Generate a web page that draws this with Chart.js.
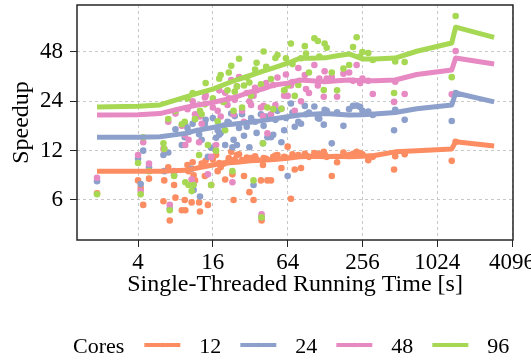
<!DOCTYPE html>
<html>
<head>
<meta charset="utf-8">
<script src="https://cdn.jsdelivr.net/npm/chart.js@4.4.0/dist/chart.umd.min.js"></script>
<style>
  html, body { margin: 0; padding: 0; background: #fff; overflow: hidden; }
</style>
</head>
<body>
<canvas id="speedupChart" width="531" height="360"></canvas>
<script>
const coreCounts = ['12', '24', '48', '96'];
const coreColors = ['#fc8d62', '#8da0cb', '#e78ac3', '#a6d854'];
const xTickValues = [4, 16, 64, 256, 1024, 4096];
const yTickValues = [6, 12, 24, 48];

// One entry per benchmark: single-threaded time [s] and speedup per core count
const runTimes = [
  1.87, 4.0, 4.2, 4.4, 4.9, 6.4, 6.5, 7.0, 7.2, 7.8,
  8.0, 9.0, 9.5, 9.6, 10.0, 10.2, 10.8, 11.0, 11.2, 11.5,
  12.4, 12.6, 13.0, 13.8, 14.0, 14.6, 15.5, 16.0, 17.0, 17.5,
  18.0, 18.5, 19.5, 20.1, 21.0, 21.5, 22.5, 23.0, 23.5, 24.0,
  25.0, 26.0, 27.5, 28.5, 30.0, 31.5, 32.5, 34.0, 35.0, 36.0,
  39.0, 39.5, 40.5, 41.0, 43.0, 44.0, 47.0, 49.0, 51.0, 53.0,
  57.0, 60.0, 62.0, 64.0, 68.0, 70.0, 73.0, 78.0, 82.0, 88.0,
  90.0, 95.0, 105, 112, 115, 125, 127, 132, 145, 160,
  180, 200, 215, 230, 245, 256, 285, 310, 460, 470,
  560, 1340, 1440
];
const speedup12 = [
  6.6, 7.9, 7.1, 5.6, 8.1, 5.9, 7.9, 9.5, 4.5, 7.4,
  6.2, 5.2, 6.0, 5.2, 9.8, 9.0, 5.8, 10.2, 8.5, 7.9,
  5.8, 5.1, 10.0, 8.4, 10.4, 5.6, 7.4, 10.6, 11.3, 9.0,
  10.1, 9.5, 10.0, 8.0, 10.2, 10.8, 11.8, 8.6, 6.0, 10.6,
  11.3, 11.4, 10.5, 8.4, 10.9, 6.7, 10.8, 6.0, 11.1, 10.6,
  7.9, 4.5, 9.8, 10.8, 10.7, 7.9, 7.9, 11.0, 11.2, 11.3,
  9.4, 11.0, 10.9, 12.7, 6.1, 11.4, 9.2, 11.3, 9.4, 11.5,
  11.2, 11.0, 11.6, 11.2, 11.5, 11.8, 11.4, 11.0, 8.4, 10.2,
  11.7, 11.3, 11.5, 11.8, 11.6, 11.4, 10.5, 11.0, 9.2, 11.1,
  11.4, 10.4, 13.6
];
const speedup24 = [
  7.8, 10.7, 7.5, 12.0, 9.5, 11.3, 9.0, 11.7, 5.3, 8.5,
  16.2, 13.0, 14.5, 17.2, 16.5, 15.6, 9.3, 17.5, 6.9, 18.7,
  15.1, 6.3, 14.0, 17.5, 18.5, 11.0, 12.5, 19.0, 14.4, 16.0,
  15.0, 15.4, 17.0, 13.0, 18.0, 17.8, 20.2, 12.6, 14.0, 19.5,
  13.0, 16.5, 20.0, 14.8, 16.8, 12.6, 19.0, 7.4, 18.0, 15.4,
  20.0, 4.7, 13.3, 17.0, 19.4, 14.5, 14.5, 15.0, 18.5, 21.0,
  13.5, 16.0, 19.0, 8.4, 23.3, 20.5, 16.8, 18.0, 17.5, 22.5,
  20.0, 20.5, 22.3, 19.0, 18.8, 17.3, 21.3, 21.0, 13.3, 20.6,
  17.0, 21.5, 22.5, 22.6, 22.2, 21.0, 20.8, 19.8, 16.0, 21.3,
  18.5, 18.2, 27.0
];
const speedup48 = [
  8.2, 11.3, 6.8, 13.5, 10.0, 12.3, 12.3, 18.0, 5.6, 9.0,
  20.2, 17.0, 15.0, 13.0, 21.5, 14.0, 8.0, 24.0, 7.5, 20.0,
  13.5, 19.4, 17.5, 25.3, 26.0, 8.6, 11.0, 22.0, 13.0, 21.0,
  28.0, 19.4, 23.8, 27.1, 22.8, 25.0, 32.4, 7.7, 20.0, 24.5,
  29.6, 33.8, 21.0, 18.0, 27.0, 24.0, 22.8, 26.0, 29.0, 28.0,
  22.0, 4.9, 19.5, 22.5, 31.0, 15.3, 20.0, 30.2, 22.8, 33.5,
  21.6, 26.0, 35.0, 25.9, 30.0, 31.5, 21.0, 38.3, 24.0, 34.7,
  28.5, 27.0, 40.0, 30.0, 33.0, 25.6, 36.6, 33.0, 33.8, 25.6,
  35.4, 36.0, 32.0, 40.0, 31.0, 33.0, 32.0, 26.6, 23.8, 31.6,
  26.6, 26.5, 48.7
];
const speedup96 = [
  6.5, 10.1, 6.5, 14.5, 9.0, 13.3, 12.3, 18.7, 5.2, 8.4,
  21.0, 17.4, 18.0, 7.7, 25.0, 7.4, 6.8, 27.0, 7.4, 18.7,
  11.3, 21.0, 20.0, 23.0, 31.0, 13.0, 7.4, 25.0, 12.0, 18.1,
  33.0, 34.7, 23.8, 16.0, 28.0, 36.0, 39.5, 9.0, 21.0, 27.5,
  29.6, 43.7, 22.0, 30.0, 33.5, 31.3, 26.0, 7.9, 37.5, 41.3,
  30.5, 4.7, 13.3, 48.3, 39.0, 22.0, 32.8, 21.5, 44.1, 46.0,
  21.6, 28.0, 44.0, 30.0, 54.0, 40.5, 25.9, 30.2, 44.0, 52.1,
  47.0, 36.0, 58.2, 56.0, 45.0, 28.1, 54.0, 50.9, 36.0, 28.0,
  38.0, 40.0, 51.5, 59.0, 45.0, 48.0, 47.3, 42.9, 27.0, 42.0,
  41.7, 33.7, 79.6
];

// Running trend lines
const trendTimes = [1.87, 4, 6, 9.6, 12, 16, 20, 25, 32, 40, 50, 64, 80, 100, 128, 160, 200, 256, 320, 470, 700, 1340, 1440, 2940];
const trend12 = [9.0, 9.0, 9.0, 9.1, 9.4, 9.8, 10.1, 10.2, 10.4, 10.5, 10.6, 10.8, 11.0, 11.1, 11.0, 11.1, 11.0, 11.1, 11.2, 11.8, 12.0, 12.3, 13.6, 12.8];
const trend24 = [14.5, 14.5, 14.6, 15.3, 16.0, 16.6, 17.2, 17.5, 17.9, 18.3, 18.8, 19.3, 19.8, 20.0, 20.2, 20.0, 19.8, 19.9, 20.1, 20.5, 21.6, 22.8, 27.0, 23.8];
const trend48 = [19.8, 19.9, 20.2, 22.0, 22.8, 23.6, 24.6, 25.6, 27.4, 28.5, 30.2, 31.0, 32.4, 32.0, 31.6, 32.0, 32.4, 32.0, 32.0, 32.4, 35.0, 37.3, 44.1, 40.6];
const trend96 = [22.2, 22.4, 22.8, 25.5, 26.8, 28.5, 30.5, 32.5, 34.5, 36.5, 38.5, 41.0, 44.0, 44.0, 44.2, 45.5, 46.7, 43.5, 43.5, 44.1, 48.5, 54.5, 68.0, 59.0];

const FONT = '"Liberation Serif", "Times New Roman", serif';
Chart.defaults.font.family = FONT;
Chart.defaults.font.size = 23;
Chart.defaults.color = '#000';

const speedups = [speedup12, speedup24, speedup48, speedup96];
const trends = [trend12, trend24, trend48, trend96];

function toPoints (xs, ys) {
  return xs.map((x, i) => ({ x: x, y: ys[i] }));
}

const datasets = [];
coreCounts.forEach((cores, i) => {
  datasets.push({
    label: cores,
    data: toPoints(trendTimes, trends[i]),
    showLine: true,
    borderColor: coreColors[i],
    backgroundColor: coreColors[i],
    borderWidth: 5,
    pointRadius: 0,
    borderJoinStyle: 'round',
    isTrend: true,
    order: 1
  });
  datasets.push({
    label: cores + ' points',
    data: toPoints(runTimes, speedups[i]),
    showLine: false,
    backgroundColor: coreColors[i],
    borderWidth: 0,
    pointRadius: 3.3,
    order: 6 - i
  });
});

// Box around the plot area
const framePlugin = {
  id: 'frame',
  afterDatasetsDraw (chart) {
    const { ctx, chartArea } = chart;
    ctx.save();
    ctx.strokeStyle = '#262626';
    ctx.lineWidth = 1.5;
    ctx.strokeRect(chartArea.left, chartArea.top, chartArea.right - chartArea.left, chartArea.bottom - chartArea.top);
    ctx.restore();
  }
};

// "Cores" legend row under the axis title
const coresLegend = {
  id: 'coresLegend',
  afterDraw (chart) {
    const ctx = chart.ctx;
    const y = 353;
    let x = 73;
    ctx.save();
    ctx.font = '22px ' + FONT;
    ctx.fillStyle = '#000';
    ctx.textBaseline = 'alphabetic';
    ctx.fillText('Cores', x, y);
    x += ctx.measureText('Cores').width + 20;
    chart.data.datasets.filter(ds => ds.isTrend).forEach(ds => {
      ctx.strokeStyle = ds.borderColor;
      ctx.lineWidth = 4;
      ctx.beginPath();
      ctx.moveTo(x, y - 8);
      ctx.lineTo(x + 36, y - 8);
      ctx.stroke();
      ctx.fillStyle = ds.borderColor;
      ctx.beginPath();
      ctx.arc(x + 18, y - 8, 2.2, 0, Math.PI * 2);
      ctx.fill();
      x += 36 + 19;
      ctx.fillStyle = '#000';
      ctx.fillText(ds.label, x, y);
      x += ctx.measureText(ds.label).width + 19;
    });
    ctx.restore();
  }
};

const ctx = document.getElementById('speedupChart').getContext('2d');
const speedupChart = new Chart(ctx, {
  type: 'scatter',
  data: { datasets: datasets },
  options: {
    responsive: false,
    animation: false,
    devicePixelRatio: 1,
    layout: { padding: { top: 5, right: 18, bottom: 0, left: 0 } },
    plugins: {
      legend: { display: false },
      tooltip: { enabled: false }
    },
    scales: {
      x: {
        type: 'logarithmic',
        min: 1.29,
        max: 4170,
        afterBuildTicks: (scale) => { scale.ticks = xTickValues.map(v => ({ value: v })); },
        afterFit: (scale) => {
          scale.height = 120;
          scale.paddingLeft = 0;
          scale.paddingRight = 0;
        },
        ticks: {
          autoSkip: false,
          maxRotation: 0,
          padding: 2,
          callback: (value) => String(value)
        },
        grid: {
          color: '#c8c8c8',
          lineWidth: 1,
          tickLength: 7,
          tickColor: '#262626',
          tickWidth: 1,
          tickBorderDash: []
        },
        border: { display: false, dash: [3, 3] },
        title: {
          display: true,
          text: 'Single-Threaded Running Time [s]',
          font: { size: 24 },
          padding: { top: 0, bottom: 61 }
        }
      },
      y: {
        type: 'logarithmic',
        min: 3.42,
        max: 92.9,
        afterBuildTicks: (scale) => { scale.ticks = yTickValues.map(v => ({ value: v })); },
        afterFit: (scale) => {
          scale.width = 77;
          scale.paddingTop = 0;
          scale.paddingBottom = 0;
        },
        ticks: {
          autoSkip: false,
          padding: 7,
          callback: (value) => String(value)
        },
        grid: {
          color: '#c8c8c8',
          lineWidth: 1,
          tickLength: 7,
          tickColor: '#262626',
          tickWidth: 1,
          tickBorderDash: []
        },
        border: { display: false, dash: [3, 3] },
        title: {
          display: true,
          text: 'Speedup',
          font: { size: 24 },
          padding: { top: 7, bottom: 0 }
        }
      }
    }
  },
  plugins: [framePlugin, coresLegend]
});
</script>
</body>
</html>
